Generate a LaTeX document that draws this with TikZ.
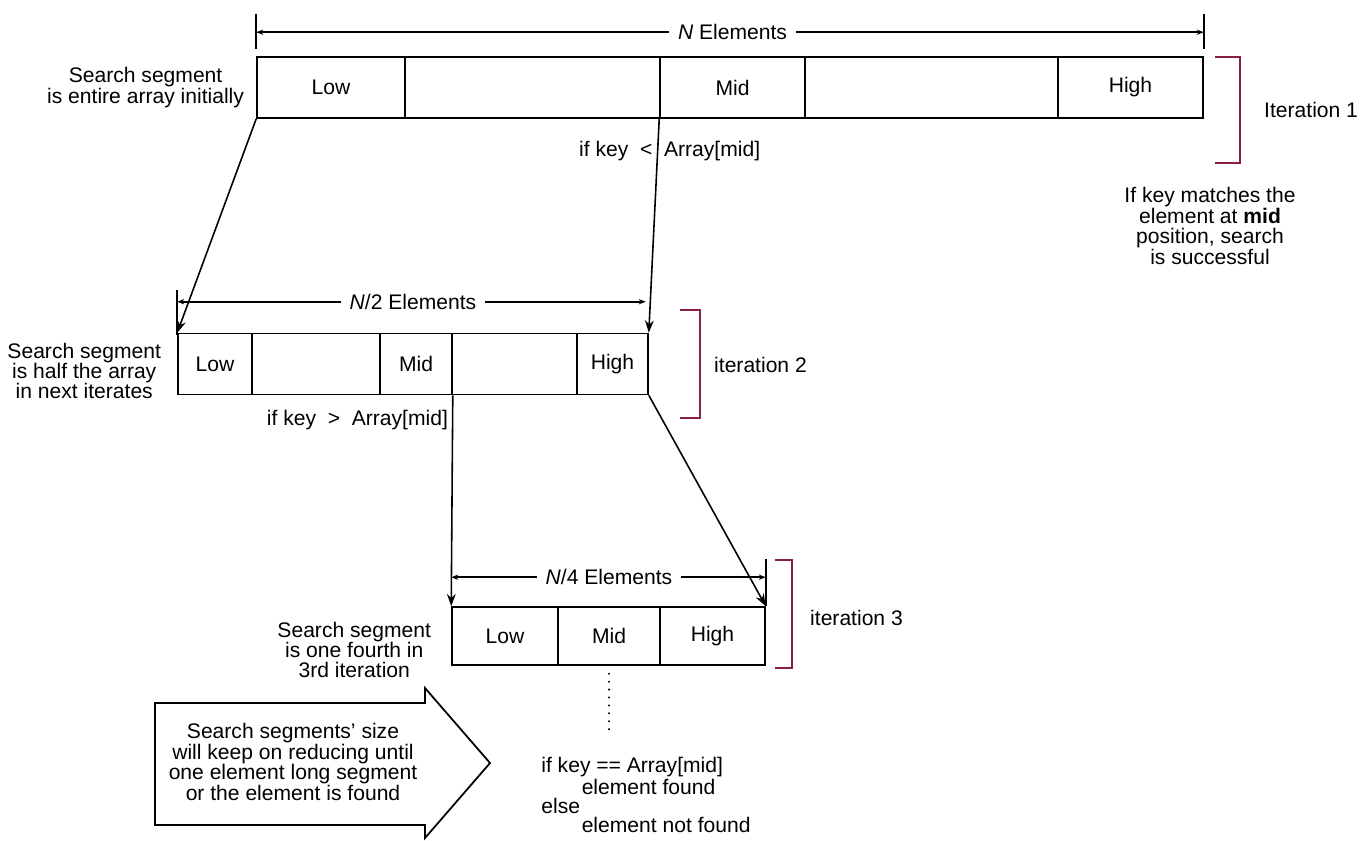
\documentclass[tikz,border=0pt]{standalone}
\usepackage{fontspec}
\setmainfont{Liberation Sans}
\usepackage{xcolor}
\usetikzlibrary{arrows.meta, calc}

\definecolor{bracketred}{RGB}{140,30,60}

\begin{document}
\begin{tikzpicture}[x=0.02cm, y=-0.02cm,
    font=\fontsize{12}{11.6}\selectfont,
    cell/.style={draw, line width=0.9pt, minimum height=1.22cm, inner sep=0pt, anchor=center},
    arr/.style={-{Stealth[length=7pt, width=5pt]}, line width=0.9pt},
    dim/.style={{Stealth[length=4pt, width=3pt]}-{Stealth[length=4pt, width=3pt]}, line width=0.9pt},
    bracket/.style={draw=bracketred, line width=0.8pt}]
\useasboundingbox (0,0) rectangle (1366,840);

% iteration 1
\node[cell, minimum width=2.96cm] (a1) at (331,87.5) {Low};
\node[cell, minimum width=5.10cm] (a2) at (532.5,87.5) {};
\node[cell, minimum width=2.90cm] (a3) at (732.5,87.5) {Mid};
\node[cell, minimum width=5.06cm] (a4) at (931.5,87.5) {};
\node[cell, minimum width=2.90cm] (a5) at (1130.5,87.5) {High};

% iteration 2
\node[cell, minimum width=1.48cm] (b1) at (215,364) {Low};
\node[cell, minimum width=2.56cm] (b2) at (316,364) {};
\node[cell, minimum width=1.44cm] (b3) at (416,364) {Mid};
\node[cell, minimum width=2.50cm] (b4) at (514.5,364) {};
\node[cell, minimum width=1.42cm] (b5) at (612.5,364) {High};

% iteration 3
\node[cell, minimum width=2.12cm, minimum height=1.16cm] (c1) at (505,636) {Low};
\node[cell, minimum width=2.04cm, minimum height=1.16cm] (c2) at (609,636) {Mid};
\node[cell, minimum width=2.10cm, minimum height=1.16cm] (c3) at (712.5,636) {High};

% element counts
\draw[dim] ($(a1.north west)+(0,-24)$) -- ($(a5.north east)+(0,-24)$);
\draw[line width=0.9pt] ($(a1.north west)+(0,-42)$) -- ($(a1.north west)+(0,-7)$);
\draw[line width=0.9pt] ($(a5.north east)+(0,-42)$) -- ($(a5.north east)+(0,-7)$);
\node[fill=white, inner sep=5pt] (n1) at ($(a3.north)+(0,-24)$) {\textit{N} Elements};

\draw[dim] ($(b1.north west)+(0,-31)$) -- ($(b5.north east)+(-3,-31)$);
\draw[line width=0.9pt] ($(b1.north west)+(0,-43)$) -- ($(b1.north west)+(0,2)$);
\node[fill=white, inner sep=5pt] (n2) at ($(b3.north)+(-3,-31)$) {\textit{N}/2 Elements};

\draw[dim] ($(c1.north west)+(0,-29)$) -- ($(c3.north east)+(0,-29)$);
\draw[line width=0.9pt] ($(c3.north east)+(0,-47)$) -- (c3.north east);
\node[fill=white, inner sep=5pt] (n3) at ($(c2.north)+(0,-29)$) {\textit{N}/4 Elements};

% segments
\draw[arr] (a1.south west) -- (b1.north west);
\draw[arr] (a3.south west) -- (b5.north east);
\draw[arr] (b3.south east) -- (c1.north west);
\draw[arr] (b5.south east) -- (c3.north east);

\node[anchor=east, inner sep=2pt] (if1) at ($(a3.south west)+(-3,32)$) {if key\ \ <};
\node[anchor=west, inner sep=2pt] (if1b) at ($(a3.south west)+(1,32)$) {Array[mid]};
\node[anchor=east, inner sep=2pt] (if2) at ($(b3.south east)+(-1,25)$) {if key\ \ >\ \ Array[mid]};

% side notes
\node[align=center, anchor=east] (s1) at ($(a1.west)+(-6,0)$) {Search segment\\is entire array initially};
\node[align=center, anchor=east] (s2) at ($(b1.west)+(-10,7)$) {Search segment\\is half the array\\in next iterates};
\node[align=center, anchor=east] (s3) at ($(c1.west)+(-14,14)$) {Search segment\\is one fourth in\\3rd iteration};

% iterations
\draw[bracket] (1215,57) -- (1240,57) -- (1240,163) -- (1215,163);
\draw[bracket] (680,310) -- (700,310) -- (700,418) -- (680,418);
\draw[bracket] (775,560) -- (792,560) -- (792,668) -- (775,668);
\node[anchor=west] (it1) at (1258,110) {Iteration 1};
\node[anchor=west] (it2) at (708,365) {iteration 2};
\node[anchor=west] (it3) at (804,618) {iteration 3};

\node[align=center] (ok) at (1210,226) {If key matches the\\element at \textbf{mid}\\position, search\\is successful};

% last step
\coordinate (dotend) at ($(c2.south)+(0,66)$);
\draw[line width=1.3pt, line cap=round, dash pattern=on 0pt off 4.5pt] ($(c2.south)+(0,8)$) -- (dotend);
\node[anchor=north west, align=left, inner sep=0pt, font=\fontsize{12}{11}\selectfont] (res) at (541,757) {if key == Array[mid]\\\hspace{23pt}element found\\else\\\hspace{23pt}element not found};

\draw[line width=1pt] (155,703) -- (425,703) -- (425,688) -- (490,763) -- (425,838) -- (425,825) -- (155,825) -- cycle;
\node[align=center] (note) at (293,762) {Search segments' size\\will keep on reducing until\\one element long segment\\or the element is found};
\end{tikzpicture}
\end{document}
